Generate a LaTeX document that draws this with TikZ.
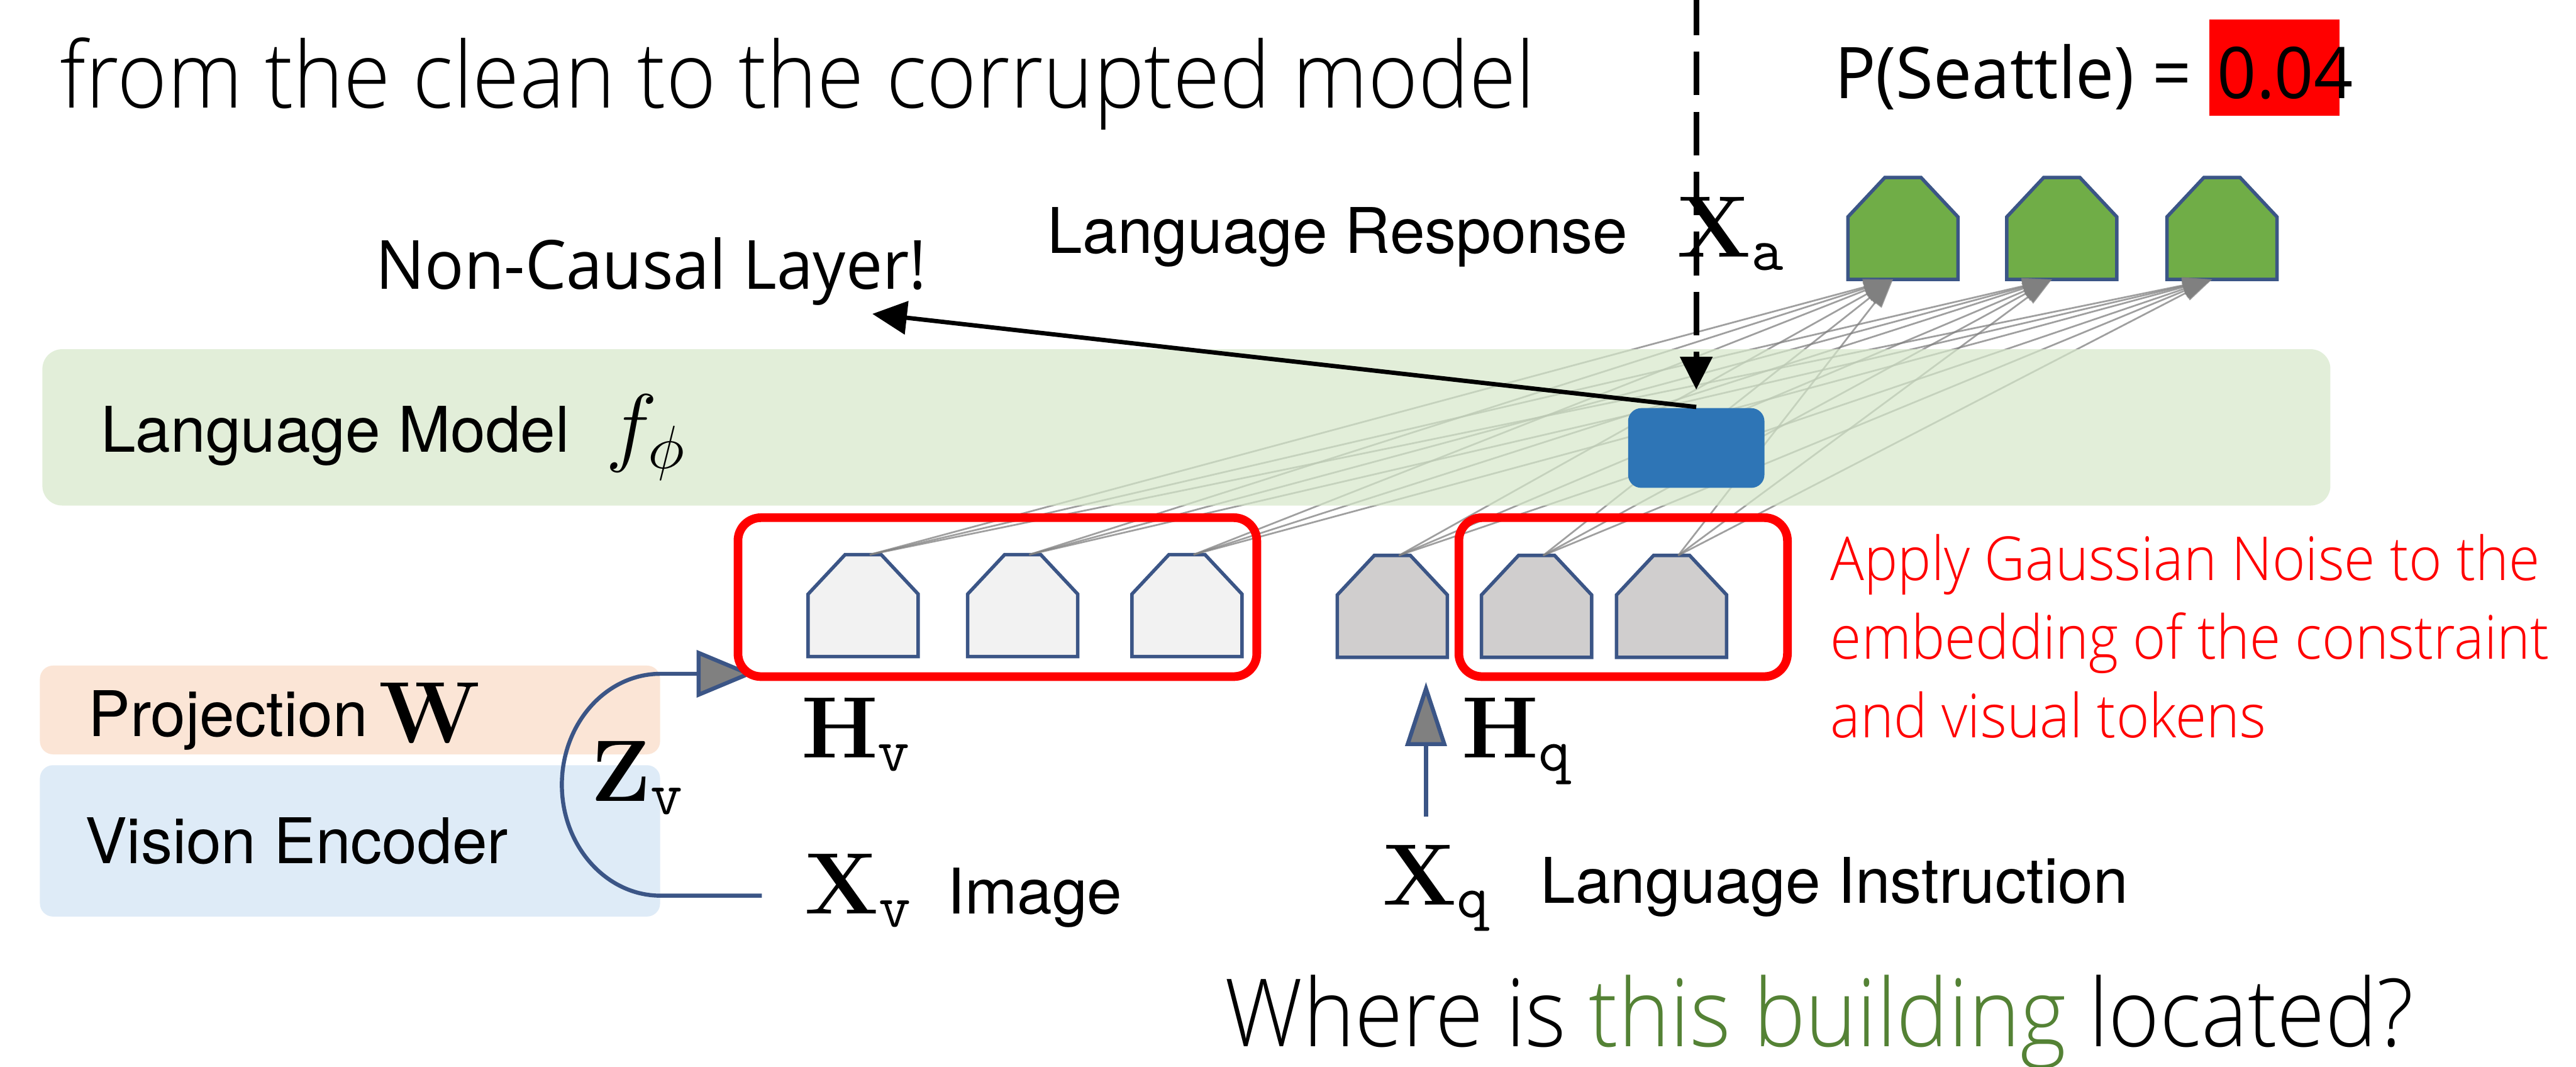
\RequirePackage{fix-cm}
\documentclass[tikz,border=0pt]{standalone}
\usepackage[no-math]{fontspec}
\setmainfont{TeX Gyre Heros}
\newfontfamily\slidefont[FakeStretch=0.96]{Open Sans}
\newfontfamily\slidelight[FakeStretch=0.93]{Open Sans Light}
\usetikzlibrary{arrows.meta}

\definecolor{lmgreen}{RGB}{214,232,202}
\definecolor{projpeach}{RGB}{251,229,214}
\definecolor{visblue}{RGB}{222,235,247}
\definecolor{patchblue}{RGB}{46,117,182}
\definecolor{tokedge}{RGB}{59,85,134}
\definecolor{tokvis}{RGB}{242,242,242}
\definecolor{toktxt}{RGB}{208,206,206}
\definecolor{tokans}{RGB}{112,173,71}
\definecolor{qgreen}{RGB}{84,130,53}
\definecolor{arrowgray}{RGB}{128,128,128}

\newcommand{\mathsz}{\fontsize{15.1}{18}\selectfont}

% a token: centre x, top y, fill, name
\newcommand{\token}[4]{%
  \begin{scope}[shift={(#1,#2)}]
    \draw[tok, fill=#3] (-33.5,62) -- (-33.5,24) -- (-11,0) -- (11,0) -- (33.5,24) -- (33.5,62) -- cycle;
    \coordinate (#4) at (4,0);
    \coordinate (#4-in) at (-6,62);
  \end{scope}}

\tikzset{
  lbl/.style={anchor=base west, inner sep=0pt},
  tok/.style={draw=tokedge, line width=0.6pt},
  fan/.style={draw=arrowgray, draw opacity=0.75, line width=0.3pt, -{Triangle[length=1.8mm,width=1mm]}},
  embline/.style={draw=tokedge, line width=0.7pt},
  noisebox/.style={draw=red, line width=1.5pt, rounded corners=1.4mm},
}

\begin{document}
\begin{tikzpicture}[x=0.1mm, y=-0.1mm]
	\useasboundingbox (0,0) rectangle (1568,649);
	\fill[white] (0,0) rectangle (1568,649);

	% model blocks
	\fill[projpeach, rounded corners=0.8mm] (24.3,405) rectangle (401.8,459);
	\fill[visblue, rounded corners=0.8mm] (24.3,465.6) rectangle (401.8,557.7);

	% tokens
	\token{525.4}{337.5}{tokvis}{v1}
	\token{622.5}{337.5}{tokvis}{v2}
	\token{722.5}{337.5}{tokvis}{v3}
	\token{847.5}{338}{toktxt}{q1}
	\token{935.3}{338}{toktxt}{q2}
	\token{1017.5}{338}{toktxt}{q3}
	\token{1158.3}{108}{tokans}{a1}
	\token{1255}{108}{tokans}{a2}
	\token{1352.5}{108}{tokans}{a3}

	\foreach \s in {v1,v2,v3,q1,q2,q3}
		\foreach \t in {a1,a2,a3}
			\draw[fan] (\s) -- (\t-in);

	% the language model lies over the connections
	\fill[lmgreen, fill opacity=0.7, rounded corners=1.2mm] (25.8,212.5) rectangle (1418.5,307.6);

	\node (patch) [fill=patchblue, rounded corners=0.8mm, minimum width=8.3mm, minimum height=4.85mm, inner sep=0pt] at (1032.5,272.6) {};

	% embeddings
	\coordinate (xvport) at (463.7,545);
	\coordinate (hvport) at (459,410);
	\draw[embline, -{Triangle[length=3.5mm,width=2.85mm,fill=arrowgray]}] (xvport) -- (402,545) .. controls (369,545) and (342,514.8) .. (342,477.5) .. controls (342,440.2) and (369,410) .. (402,410) -- (hvport);
	\coordinate (xqport) at (868,497);
	\coordinate (hqport) at (868,415);
	\draw[embline, -{Triangle[length=3.9mm,width=2.5mm,fill=arrowgray]}] (xqport) -- (hqport);

	\draw[noisebox] (449.2,315) rectangle (765,411.7);
	\draw[noisebox] (888,315) rectangle (1088,411.7);

	% patching arrows
	\coordinate (cut) at (1032.5,-5);
	\coordinate (ncend) at (531,191);
	\draw[line width=1pt, dash pattern=on 2.65mm off 1mm, shorten >=1.05mm, -{Triangle[length=2mm,width=1.9mm]}] (cut) -- (patch.north);
	\draw[line width=0.75pt, -{Triangle[length=2.1mm,width=2mm]}] (patch.north) -- (ncend);

	% labels
	\node (toptext) [lbl, font=\slidelight\fontsize{15.9}{20}\selectfont] at (36,65.7) {from the clean to the corrupted model};
	\fill[red] (1345,12) rectangle (1424,70.6);
	\node (prob) [lbl, font=\slidefont\fontsize{12.35}{15}\selectfont] at (1116,60) {P(Seattle) =};
	\node (probval) [lbl, font=\slidefont\fontsize{12.35}{15}\selectfont] at (1349,60) {0.04};
	\node (nclabel) [lbl, font=\slidefont\fontsize{11.75}{14}\selectfont] at (228,176) {Non-Causal Layer!};
	\node (resp) [lbl, font=\fontsize{10.9}{13}\selectfont] at (637,154) {Language Response};
	\node (xa) [lbl] at (1020,156.4) {\mathsz$\mathbf{X}_{\mathtt{a}}$};
	\node (lm) [lbl, font=\fontsize{10.9}{13}\selectfont] at (60.6,275) {Language Model};
	\node (fphi) [lbl] at (368,277) {\mathsz$f_{\phi}$};
	\node (proj) [lbl, font=\fontsize{10.9}{13}\selectfont] at (53,448) {Projection};
	\node (w) [lbl] at (230,452) {\mathsz$\mathbf{W}$};
	\node (venc) [lbl, font=\fontsize{10.9}{13}\selectfont] at (51,525.5) {Vision Encoder};
	\node (zv) [lbl] at (359,487.5) {\mathsz$\mathbf{Z}_{\mathtt{v}}$};
	\node (hv) [lbl] at (487,461) {\mathsz$\mathbf{H}_{\mathtt{v}}$};
	\node (xv) [lbl] at (489,556) {\mathsz$\mathbf{X}_{\mathtt{v}}$};
	\node (img) [lbl, font=\fontsize{10.9}{13}\selectfont] at (576,556) {Image};
	\node (hq) [lbl] at (889,461) {\mathsz$\mathbf{H}_{\mathtt{q}}$};
	\node (xq) [lbl] at (841,550.5) {\mathsz$\mathbf{X}_{\mathtt{q}}$};
	\node (instr) [lbl, font=\fontsize{10.9}{13}\selectfont] at (937,549.6) {Language Instruction};
	% base anchor sits on the last line
	\node (noise) [lbl, align=left, text=red, font=\slidelight\fontsize{10.5}{13.65}\selectfont] at (1113.6,449) {Apply Gaussian Noise to the\\embedding of the constraint\\and visual tokens};
	\node (question) [lbl, font=\slidelight\fontsize{16.3}{20}\selectfont] at (745,637) {Where is \textcolor{qgreen}{this building} located?};
\end{tikzpicture}
\end{document}
